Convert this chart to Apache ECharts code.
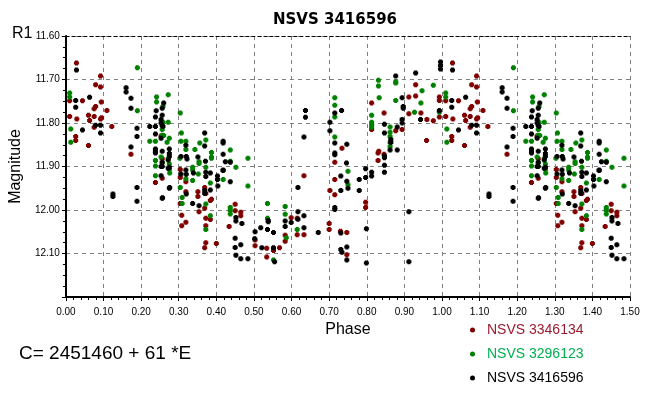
<!DOCTYPE html>
<html><head><meta charset="utf-8">
<script src="https://cdn.jsdelivr.net/npm/echarts@6/dist/echarts.min.js"></script>
<style>html,body{margin:0;padding:0;background:#fff}#c{width:670px;height:393px}</style>
</head><body><div id="c"></div>
<script>
// Phase / magnitude pairs (phase 0..1); points with phase < 0.5 are also shown at phase+1
const seriesNames = ['NSVS 3346134', 'NSVS 3296123', 'NSVS 3416596'];
const xTicks = ['0.00','0.10','0.20','0.30','0.40','0.50','0.60','0.70','0.80','0.90','1.00','1.10','1.20','1.30','1.40','1.50'];
const yTicks = ['11.60','11.70','11.80','11.90','12.00','12.10'];

const redPoints = [
[0.028,11.662],[0.092,11.692],[0.079,11.712],[0.092,11.717],[0.010,11.749],[0.044,11.749],[0.094,11.752],[0.079,11.762],[0.075,11.767],[0.109,11.771],
[0.010,11.785],[0.029,11.791],[0.060,11.782],[0.063,11.794],[0.075,11.785],[0.092,11.791],[0.095,11.788],[0.075,11.810],[0.122,11.808],[0.026,11.831],
[0.026,11.840],[0.060,11.852],[0.173,11.872],[0.253,11.830],[0.256,11.882],
[0.304,11.907],[0.304,11.925],[0.238,11.937],[0.256,11.927],[0.319,11.935],[0.319,11.958],[0.304,11.985],[0.351,11.958],[0.351,11.969],[0.369,11.948],
[0.384,11.978],[0.369,11.996],[0.354,12.004],[0.308,12.012],[0.319,12.028],[0.308,12.036],[0.372,12.019],[0.384,12.022],[0.372,12.036],[0.372,12.075],
[0.369,12.087],[0.400,12.077],[0.450,11.987],[0.450,12.002],[0.465,12.005],[0.465,12.013],[0.434,12.038],[0.387,11.975],[0.372,11.962],
[0.813,11.754],[0.846,11.777],[0.877,11.818],[0.894,11.815],[0.912,11.740],[0.930,11.712],[0.930,11.738],[0.912,11.779],[0.944,11.777],[0.960,11.792],
[0.977,11.795],[0.993,11.740],[0.993,11.748],[0.993,11.786],[0.959,11.840],[0.813,11.815],[0.734,11.858],[0.832,11.865],[0.830,11.869],[0.846,11.872],
[0.830,11.886],[0.715,11.890],
[0.633,11.921],[0.715,11.930],[0.702,11.955],[0.715,11.965],[0.797,11.982],[0.797,11.994],[0.599,12.018],[0.615,12.019],[0.700,12.031],[0.700,12.045],
[0.615,12.057],[0.633,12.057],[0.583,12.058],[0.583,12.072],[0.730,12.049],[0.747,12.052],[0.503,12.069],[0.503,12.082],[0.534,12.088],[0.552,12.093],
[0.568,12.087],[0.534,12.108],[0.747,12.103]
];

const greenPoints = [
[0.190,11.673],[0.010,11.731],[0.010,11.740],[0.013,11.814],[0.013,11.844],[0.190,11.772],[0.241,11.740],[0.241,11.752],[0.272,11.735],[0.258,11.762],
[0.272,11.798],[0.258,11.798],[0.304,11.777],[0.256,11.815],[0.256,11.828],[0.223,11.842],[0.238,11.842],[0.269,11.844],[0.275,11.835],[0.307,11.823],
[0.306,11.842],[0.319,11.842],[0.319,11.861],[0.356,11.846],[0.343,11.861],[0.372,11.839],[0.387,11.868],[0.387,11.878],[0.354,11.889],[0.354,11.893],
[0.437,11.862],[0.484,11.881],[0.437,11.888],[0.452,11.902],[0.337,11.902],[0.372,11.902],[0.303,11.881],[0.260,11.829],
[0.238,11.899],[0.238,11.886],[0.253,11.878],[0.256,11.892],[0.272,11.882],[0.275,11.894],[0.275,11.907],[0.238,11.921],[0.304,11.948],[0.337,11.908],
[0.319,11.928],[0.337,11.932],[0.352,11.917],[0.384,11.938],[0.309,11.971],[0.309,11.985],[0.372,11.986],[0.384,12.013],[0.372,12.045],[0.437,11.994],
[0.437,12.001],[0.437,12.009],[0.484,11.945],[0.418,11.930],[0.387,11.881],[0.276,11.915],
[0.831,11.702],[0.831,11.715],[0.877,11.705],[0.877,11.708],[0.977,11.713],[0.947,11.726],[0.833,11.742],[0.877,11.748],[0.944,11.754],[0.927,11.775],
[0.993,11.775],[0.715,11.742],[0.715,11.759],[0.715,11.786],[0.813,11.782],[0.813,11.798],[0.813,11.804],[0.813,11.810],[0.862,11.809],[0.862,11.821],
[0.862,11.831],[0.862,11.844],[0.715,11.832],[0.862,11.854],
[0.750,11.911],[0.750,11.942],[0.536,11.985],[0.583,11.992],[0.583,12.010],[0.536,12.019],[0.615,12.045],[0.586,12.064],[0.552,12.115]
];

const blackPoints = [
[0.028,11.678],[0.160,11.719],[0.160,11.729],[0.173,11.743],[0.173,11.766],[0.026,11.748],[0.026,11.764],[0.063,11.741],[0.044,11.816],[0.092,11.805],
[0.079,11.805],[0.092,11.823],[0.189,11.812],[0.189,11.831],[0.173,11.855],[0.240,11.772],[0.256,11.766],[0.260,11.754],[0.238,11.786],[0.256,11.782],
[0.253,11.792],[0.253,11.800],[0.256,11.806],[0.258,11.808],[0.223,11.808],[0.238,11.808],[0.238,11.825],[0.253,11.835],[0.238,11.860],[0.238,11.865],
[0.238,11.869],[0.256,11.865],[0.275,11.860],[0.275,11.870],[0.275,11.877],[0.272,11.885],[0.256,11.890],[0.256,11.900],[0.272,11.904],[0.319,11.851],
[0.306,11.877],[0.320,11.877],[0.322,11.883],[0.351,11.878],[0.369,11.823],[0.369,11.853],[0.371,11.888],[0.418,11.842],[0.418,11.846],[0.418,11.872],
[0.437,11.890],[0.424,11.889],[0.319,11.908],[0.418,11.908],
[0.125,11.963],[0.125,11.969],[0.189,11.948],[0.189,11.980],[0.275,11.950],[0.256,11.973],[0.253,11.921],[0.253,11.900],[0.275,11.902],[0.306,11.917],
[0.320,11.918],[0.320,11.963],[0.337,11.985],[0.354,11.990],[0.369,11.955],[0.369,11.962],[0.384,11.954],[0.372,11.913],[0.372,11.923],[0.384,11.915],
[0.403,11.922],[0.403,11.930],[0.418,11.909],[0.437,11.935],[0.452,12.017],[0.452,12.025],[0.468,12.031],[0.450,12.065],[0.465,12.080],[0.450,12.086],
[0.452,12.104],[0.465,12.112],[0.484,12.112],[0.339,11.915],[0.404,11.945],[0.276,11.948],[0.257,11.972],
[0.637,11.771],[0.637,11.787],[0.633,11.832],[0.702,11.798],[0.702,11.818],[0.715,11.777],[0.733,11.771],[0.715,11.846],[0.747,11.849],[0.715,11.869],
[0.715,11.873],[0.746,11.892],[0.797,11.905],[0.877,11.692],[0.930,11.685],[0.996,11.660],[0.996,11.668],[0.996,11.676],[0.894,11.742],[0.897,11.762],
[0.897,11.766],[0.894,11.792],[0.894,11.800],[0.943,11.792],[0.993,11.771],[0.847,11.803],[0.847,11.823],[0.881,11.809],[0.864,11.838],[0.864,11.845],
[0.862,11.862],[0.881,11.862],[0.847,11.876],[0.847,11.880],[0.847,11.897],
[0.847,11.913],[0.797,11.925],[0.813,11.913],[0.813,11.922],[0.780,11.930],[0.780,11.955],[0.731,11.922],[0.747,11.934],[0.750,11.950],[0.731,11.955],
[0.617,11.948],[0.715,11.994],[0.715,11.999],[0.617,12.004],[0.633,12.013],[0.538,12.024],[0.538,12.027],[0.518,12.041],[0.503,12.050],[0.536,12.045],
[0.552,12.052],[0.583,12.025],[0.599,12.029],[0.583,12.038],[0.617,12.021],[0.633,12.041],[0.671,12.052],[0.731,12.053],[0.747,12.085],[0.731,12.091],
[0.734,12.097],[0.747,12.115],[0.799,12.043],[0.799,12.122],[0.912,12.004],[0.912,12.119],[0.521,12.087],[0.552,12.087],[0.555,12.119],[0.502,12.066]
];

function extend(points) {
  return points.concat(points.filter(p => p[0] < 0.5).map(p => [p[0] + 1, p[1]]));
}

const marker = 'path://M1,0L4,0L4,1L5,1L5,4L4,4L4,5L1,5L1,4L0,4L0,1L1,1Z';
const colors = ['#800000', '#008000', '#000000'];
const legendText = ['#9b1b30', '#00b050', '#000000'];
const font = '"Liberation Sans", Arial, sans-serif';

const chart = echarts.init(document.getElementById('c'), null, {renderer: 'canvas'});
const gridLine = {show: true, lineStyle: {color: '#808080', type: [4, 4], width: 1}};
chart.setOption({
  animation: false,
  backgroundColor: '#fff',
  textStyle: {fontFamily: font},
  title: [
    {text: 'NSVS 3416596', left: 'center', top: 8, textStyle: {fontFamily: '"DejaVu Sans", sans-serif', fontSize: 15, fontWeight: 'bold', color: '#000'}},
    {text: 'R1', left: 7, top: 21, textStyle: {fontFamily: font, fontSize: 16, fontWeight: 'normal', color: '#000'}},
    {text: 'C= 2451460 + 61 *E', left: 14, top: 339, textStyle: {fontFamily: font, fontSize: 19, fontWeight: 'normal', color: '#000'}}
  ],
  legend: {
    orient: 'vertical', left: 465, top: 318, height: 75, itemGap: 10, itemWidth: 5, itemHeight: 5,
    icon: 'circle',
    textStyle: {fontFamily: font, fontSize: 14, padding: [0, 0, 0, 7]},
    data: seriesNames.map((n, i) => ({name: n, textStyle: {color: legendText[i]}}))
  },
  grid: {left: 60, right: 40, top: 36, bottom: 96},
  xAxis: [{
    type: 'value', min: 0, max: 1.5, interval: 0.1,
    name: 'Phase', nameLocation: 'middle', nameGap: 23,
    nameTextStyle: {fontFamily: font, fontSize: 16, color: '#000'},
    axisLine: {show: true, onZero: false, lineStyle: {color: '#000', width: 2}},
    axisTick: {show: true, length: 4, lineStyle: {color: '#000'}},
    minorTick: {show: true, splitNumber: 5, length: 3, lineStyle: {color: '#000'}},
    axisLabel: {margin: 10, fontSize: 10, color: '#000', formatter: (v) => xTicks[Math.round(v * 10)]},
    splitLine: gridLine
  }, {
    type: 'value', min: 0, max: 1.5, position: 'top',
    axisLine: {show: true, lineStyle: {color: '#000', type: [3, 3], width: 1}},
    axisTick: {show: false}, axisLabel: {show: false}, splitLine: {show: false}
  }],
  yAxis: [{
    type: 'value', inverse: true, min: 11.6, max: 12.2, interval: 0.1,
    name: 'Magnitude', nameLocation: 'middle', nameGap: 38, nameRotate: 90,
    nameTextStyle: {fontFamily: font, fontSize: 16, color: '#000'},
    axisLine: {show: true, onZero: false, lineStyle: {color: '#000', width: 2}},
    axisTick: {show: true, length: 4, lineStyle: {color: '#000'}},
    minorTick: {show: true, splitNumber: 4, length: 3, lineStyle: {color: '#000'}},
    axisLabel: {margin: 6, fontSize: 10, color: '#000', showMaxLabel: false,
      formatter: (v) => yTicks[Math.round((v - 11.6) * 10)] || ''},
    splitLine: gridLine
  }, {
    type: 'value', inverse: true, min: 11.6, max: 12.2, position: 'right',
    axisLine: {show: true, lineStyle: {color: '#000', type: [3, 3], width: 1}},
    axisTick: {show: false}, axisLabel: {show: false}, splitLine: {show: false}
  }],
  series: [redPoints, greenPoints, blackPoints].map((pts, i) => ({
    name: seriesNames[i], type: 'scatter', symbol: marker, symbolSize: 5,
    itemStyle: {color: colors[i], opacity: 1},
    data: extend(pts)
  }))
});
</script></body></html>
